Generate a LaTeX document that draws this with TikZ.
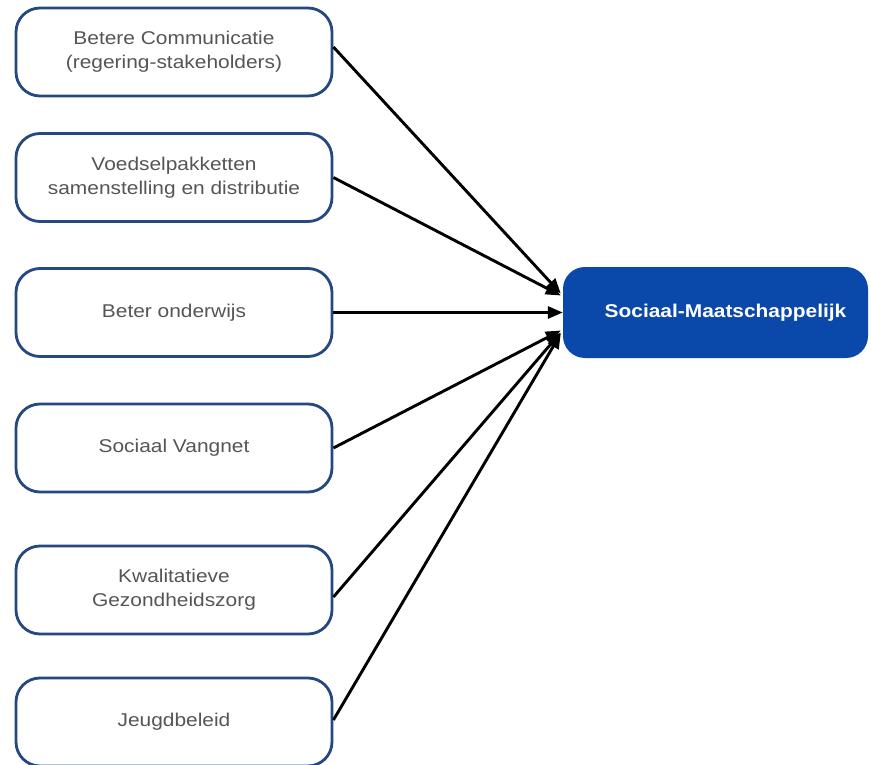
\documentclass[tikz,border=0pt]{standalone}
\usepackage{fontspec}
\setmainfont[FakeStretch=1.13]{Liberation Sans}
\usetikzlibrary{arrows.meta}
\definecolor{boxline}{HTML}{24487F}
\definecolor{boxtext}{HTML}{555555}
\definecolor{mainfill}{HTML}{0A48AA}
\tikzset{
  leftbox/.style={draw=boxline, line width=2.8pt, rounded corners=24pt, fill=white,
    minimum width=316pt, minimum height=88pt, align=center, text=boxtext,
    font=\fontsize{18.5}{24}\selectfont},
  mainbox/.style={fill=mainfill, rounded corners=22pt, minimum width=305pt, minimum height=91pt,
    text=white, font=\fontsize{18.5}{24}\selectfont\bfseries},
  conn/.style={line width=2.9pt, -{Triangle[length=15pt,width=12pt]}}
}
\begin{document}
\begin{tikzpicture}[x=1pt,y=-1pt]
\useasboundingbox (0,0) rectangle (871,765);
\node[leftbox] (b1) at (174,52) {Betere Communicatie\\(regering-stakeholders)};
\node[leftbox] (b2) at (174,177.5) {Voedselpakketten\\samenstelling en distributie};
\node[leftbox] (b3) at (174,312.5) {Beter onderwijs};
\node[leftbox] (b4) at (174,448) {Sociaal Vangnet};
\node[leftbox] (b5) at (174,590) {Kwalitatieve\\Gezondheidszorg};
\node[leftbox] (b6) at (174,722) {Jeugdbeleid};
\node[mainbox] (m) at (715.5,312.5) {\hspace*{20pt}Sociaal-Maatschappelijk};
\draw[conn] ([yshift=5pt]b1.east) -- ([yshift=19pt,xshift=-2pt]m.west);
\draw[conn] (b2.east) -- ([yshift=17pt,xshift=-2pt]m.west);
\draw[conn] (b3.east) -- (m.west);
\draw[conn] (b4.east) -- ([yshift=-18pt,xshift=-2pt]m.west);
\draw[conn] ([yshift=-7pt]b5.east) -- ([yshift=-20pt,xshift=-2pt]m.west);
\draw[conn] ([yshift=2pt]b6.east) -- ([yshift=-21pt,xshift=-2pt]m.west);
\end{tikzpicture}
\end{document}
